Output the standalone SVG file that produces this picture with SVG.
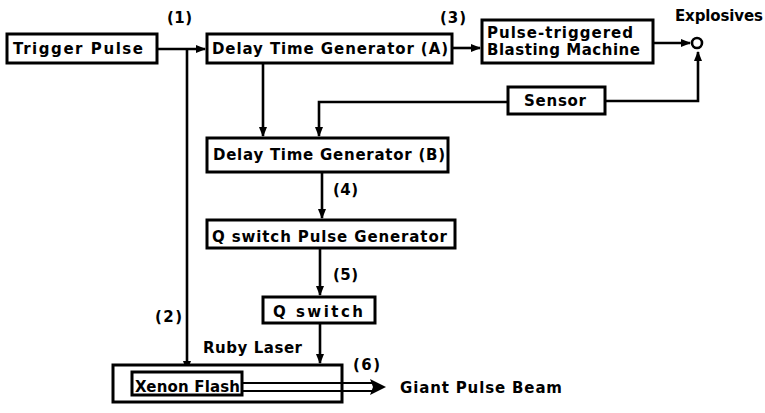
<svg xmlns="http://www.w3.org/2000/svg" width="765" height="413" viewBox="0 0 765 413">
  <defs>
    <marker id="arrow" viewBox="0 0 10 10" refX="9" refY="5" markerWidth="4" markerHeight="4" orient="auto" markerUnits="strokeWidth">
      <path d="M0,1 L10,5 L0,9 z" fill="#000"/>
    </marker>
  </defs>
  <style>
    .box { fill: #fff; stroke: #000; stroke-width: 3; }
    .line { fill: none; stroke: #000; stroke-width: 2.6; }
    text { font-family: "DejaVu Sans", "Liberation Sans", sans-serif; font-weight: bold; font-size: 15px; fill: #000; }
  </style>
  <rect width="765" height="413" fill="#fff"/>

  <g id="connectors">
    <path class="line" d="M157,49 H205" marker-end="url(#arrow)"/>
    <path class="line" d="M187,49 V370" marker-end="url(#arrow)"/>
    <path class="line" d="M452,48 H480" marker-end="url(#arrow)"/>
    <path class="line" d="M653,43 H690" marker-end="url(#arrow)"/>
    <path class="line" d="M605,101 H698 V52" marker-end="url(#arrow)"/>
    <path class="line" d="M508,102 H319 V136" marker-end="url(#arrow)"/>
    <path class="line" d="M263,63 V136" marker-end="url(#arrow)"/>
    <path class="line" d="M322,172 V218" marker-end="url(#arrow)"/>
    <path class="line" d="M320,248 V295" marker-end="url(#arrow)"/>
    <path class="line" d="M320,323 V363" marker-end="url(#arrow)"/>
  </g>

  <g id="trigger-pulse">
    <rect class="box" x="7" y="34" width="150" height="29"/>
    <text x="13" y="54" textLength="130" lengthAdjust="spacing">Trigger Pulse</text>
  </g>

  <g id="delay-a">
    <rect class="box" x="207" y="34" width="245" height="29"/>
    <text x="212" y="54" textLength="236" lengthAdjust="spacing">Delay Time Generator (A)</text>
  </g>

  <g id="blasting-machine">
    <rect class="box" x="482" y="20" width="171" height="43"/>
    <text x="487" y="38" textLength="146" lengthAdjust="spacing">Pulse-triggered</text>
    <text x="487" y="55" textLength="153" lengthAdjust="spacing">Blasting Machine</text>
  </g>

  <g id="explosives">
    <circle cx="697" cy="43" r="5" fill="#fff" stroke="#000" stroke-width="2.6"/>
    <text x="675" y="21" textLength="88" lengthAdjust="spacing">Explosives</text>
  </g>

  <g id="sensor">
    <rect class="box" x="508" y="87" width="97" height="27"/>
    <text x="524" y="106" textLength="62" lengthAdjust="spacing">Sensor</text>
  </g>

  <g id="delay-b">
    <rect class="box" x="207" y="138" width="241" height="34"/>
    <text x="213" y="160" textLength="232" lengthAdjust="spacing">Delay Time Generator (B)</text>
  </g>

  <g id="q-switch-pulse-generator">
    <rect class="box" x="207" y="220" width="248" height="28"/>
    <text x="212" y="242" textLength="235" lengthAdjust="spacing">Q switch Pulse Generator</text>
  </g>

  <g id="q-switch">
    <rect class="box" x="263" y="297" width="112" height="26"/>
    <text x="273" y="317" textLength="90" lengthAdjust="spacing">Q switch</text>
  </g>

  <g id="ruby-laser">
    <rect class="box" x="113" y="365" width="229" height="37"/>
    <text x="203" y="353" textLength="99" lengthAdjust="spacing">Ruby Laser</text>
  </g>

  <g id="xenon-flash">
    <rect class="box" x="132" y="372" width="110" height="23"/>
    <text x="135" y="392" textLength="105" lengthAdjust="spacing">Xenon Flash</text>
  </g>

  <g id="giant-pulse-beam">
    <path d="M242,383 H376 M242,391 H376" fill="none" stroke="#000" stroke-width="2"/>
    <path d="M370,379 L386,387 L370,395 L373,387 z" fill="#000"/>
    <text x="400" y="393" textLength="162" lengthAdjust="spacing">Giant Pulse Beam</text>
  </g>

  <g id="labels">
    <text x="167" y="23" textLength="25" lengthAdjust="spacing">(1)</text>
    <text x="155" y="322" textLength="27" lengthAdjust="spacing">(2)</text>
    <text x="440" y="23" textLength="26" lengthAdjust="spacing">(3)</text>
    <text x="333" y="195" textLength="25" lengthAdjust="spacing">(4)</text>
    <text x="333" y="280" textLength="25" lengthAdjust="spacing">(5)</text>
    <text x="353" y="370" textLength="27" lengthAdjust="spacing">(6)</text>
  </g>
</svg>
